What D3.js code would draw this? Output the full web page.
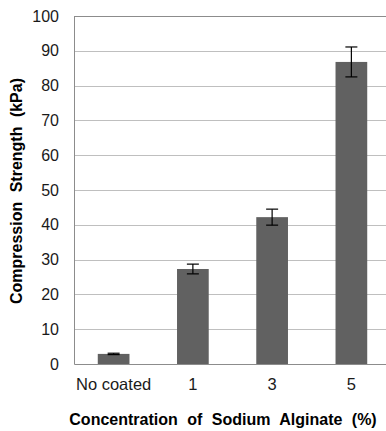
<!DOCTYPE html>
<html>
<head>
<meta charset="utf-8">
<script src="https://cdn.jsdelivr.net/npm/d3@7"></script>
<style>
  body { margin: 0; background: #fff; }
  text { font-family: "Liberation Sans", Arial, sans-serif; }
</style>
</head>
<body>
<div id="chart"></div>
<script>
// data
var categories = ["No coated", "1", "3", "5"];
var strength = [2.9, 27.3, 42.2, 86.8];
var errors = [0.2, 1.4, 2.3, 4.3];
var yTicks = [0, 10, 20, 30, 40, 50, 60, 70, 80, 90, 100];

var W = 386, H = 431;
var margin = { top: 16, right: -5, bottom: 67, left: 74 },
    width = W - margin.left - margin.right,
    height = H - margin.top - margin.bottom;

var svg = d3.select("#chart")
    .append("svg")
    .attr("width", W)
    .attr("height", H)
    .append("g")
    .attr("transform", "translate(" + margin.left + "," + margin.top + ")");

var x = d3.scaleBand()
    .domain(categories)
    .range([0, width])
    .paddingInner(0.6)
    .paddingOuter(0.3);

var y = d3.scaleLinear()
    .domain([0, 100])
    .range([height, 0]);

// gridlines
svg.append("g")
    .selectAll("line")
    .data(yTicks.slice(1))
    .enter()
    .append("line")
    .attr("x1", 0)
    .attr("x2", width)
    .attr("y1", function (d) { return Math.round(y(d)) + 0.5 })
    .attr("y2", function (d) { return Math.round(y(d)) + 0.5 })
    .attr("stroke", function (d) { return d == 100 ? "#8c8c8c" : "#bfbfbf" })
    .attr("stroke-width", 1);

// y axis
var yAxis = svg.append("g")
    .call(d3.axisLeft(y).tickValues(yTicks).tickSize(0).tickPadding(15));
yAxis.select(".domain").attr("stroke", "#8c8c8c");
yAxis.selectAll("text")
    .attr("font-size", "16px")
    .attr("fill", "#1a1a1a");

// x axis
var xAxis = svg.append("g")
    .attr("transform", "translate(0," + height + ")")
    .call(d3.axisBottom(x).tickSize(0).tickPadding(14));
xAxis.select(".domain").attr("stroke", "#8c8c8c");
xAxis.selectAll("text")
    .attr("font-size", "16.5px")
    .attr("fill", "#1a1a1a");

// bars
svg.append("g")
    .selectAll("rect")
    .data(strength)
    .enter()
    .append("rect")
    .attr("x", function (d, i) { return x(categories[i]) })
    .attr("y", function (d) { return y(d) })
    .attr("width", x.bandwidth())
    .attr("height", function (d) { return height - y(d) })
    .attr("fill", "#616161");

// error bars
var eb = svg.append("g")
    .selectAll("g")
    .data(strength)
    .enter()
    .append("g")
    .attr("stroke", "#000")
    .attr("stroke-width", 1.2);
eb.append("line")
    .attr("x1", function (d, i) { return x(categories[i]) + x.bandwidth() / 2 })
    .attr("x2", function (d, i) { return x(categories[i]) + x.bandwidth() / 2 })
    .attr("y1", function (d, i) { return y(d - errors[i]) })
    .attr("y2", function (d, i) { return y(d + errors[i]) });
eb.selectAll(".cap")
    .data(function (d, i) { return [[i, d - errors[i]], [i, d + errors[i]]] })
    .enter()
    .append("line")
    .attr("x1", function (d) { return x(categories[d[0]]) + x.bandwidth() / 2 - 6 })
    .attr("x2", function (d) { return x(categories[d[0]]) + x.bandwidth() / 2 + 6 })
    .attr("y1", function (d) { return y(d[1]) })
    .attr("y2", function (d) { return y(d[1]) });

// axis titles
svg.append("text")
    .attr("text-anchor", "middle")
    .attr("x", 223 - margin.left)
    .attr("y", 425 - margin.top)
    .attr("font-size", "16px")
    .attr("font-weight", "bold")
    .style("word-spacing", "5px")
    .text("Concentration of Sodium Alginate (%)");

svg.append("text")
    .attr("text-anchor", "middle")
    .attr("transform", "rotate(-90)")
    .attr("x", -(191 - margin.top))
    .attr("y", 22 - margin.left)
    .attr("font-size", "16px")
    .attr("font-weight", "bold")
    .style("word-spacing", "5px")
    .text("Compression Strength (kPa)");
</script>
</body>
</html>
